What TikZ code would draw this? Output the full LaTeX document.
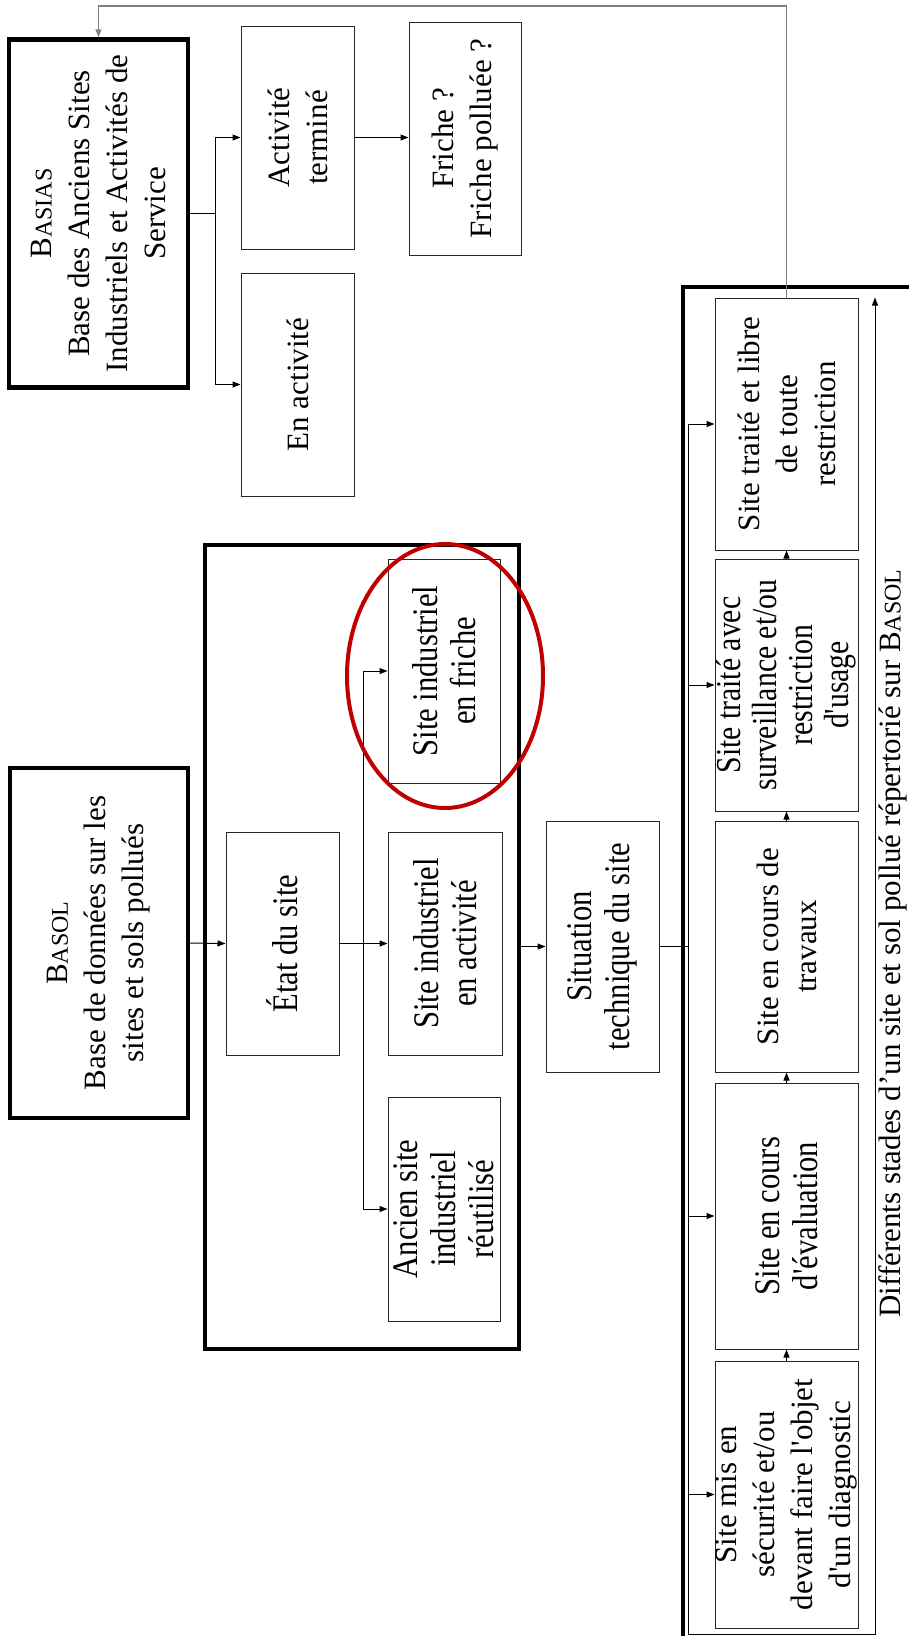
\documentclass[tikz,border=0pt]{standalone}
\usepackage{fontspec}
\newfontfamily\gara{Liberation Serif}[Ligatures=TeXOff]
\newfontfamily\etroit{Liberation Serif}[FakeStretch=0.85,Ligatures=TeXOff]
\newcommand{\fgara}{\gara\fontsize{31}{38}\selectfont}
\newcommand{\fetroit}{\etroit\fontsize{36}{38}\selectfont}
\newcommand{\petitcap}[1]{{\fontsize{24}{38}\selectfont #1}}
\usetikzlibrary{arrows.meta}
\definecolor{rougecercle}{RGB}{192,0,0}

\tikzset{
	boite/.style={draw=black!85, line width=1pt, rotate=90, align=center, inner sep=0pt, font=\fgara},
	etroite/.style={boite, font=\fetroit},
	base/.style={boite, draw=black, line width=4.5pt},
	fleche/.style={-{Triangle[length=8pt,width=6pt]}, line width=1pt},
	retour/.style={fleche, draw=black!50, line width=1.5pt},
	cadre/.style={draw=black, line width=4.5pt}
}

\begin{document}
\begin{tikzpicture}[x=1pt, y=-1pt]
	\useasboundingbox (0,0) rectangle (909,1636);

	% BASIAS
	\node[base, minimum width=348, minimum height=179] (basias) at (98.5,213.5) {B\petitcap{ASIAS}\\Base des Anciens Sites\\Industriels et Activités de\\Service};
	\node[boite, minimum width=223, minimum height=113] (termine) at (297.5,137.5) {Activité\\terminé};
	\node[boite, minimum width=223, minimum height=113] (enact) at (297.5,384.5) {En activité};
	\node[boite, minimum width=233, minimum height=112] (friche) at (465,138.5) {Friche~?\\Friche polluée~?};

	% BASOL
	\node[base, minimum width=350, minimum height=178] (basol) at (99,943) {B\petitcap{ASOL}\\Base de données sur les\\sites et sols pollués};
	\draw[cadre] (205,545) rectangle (519,1349); % cadre etat du site
	\node[etroite, minimum width=223, minimum height=113] (etat) at (282.5,943.5) {État du site};
	\node[etroite, minimum width=224, minimum height=112] (friche2) at (444,671) {Site industriel\\en friche};
	\node[etroite, minimum width=223, minimum height=114] (activ) at (445,943.5) {Site industriel\\en activité};
	\node[etroite, minimum width=224, minimum height=112] (ancien) at (444,1209) {Ancien site\\industriel\\réutilisé};
	\node[etroite, minimum width=251, minimum height=113] (situation) at (602.5,946.5) {Situation\\technique du site};

	% stades sur BASOL
	\draw[cadre] (683,1640) -- (683,287) -- (912,287);
	\node[boite, minimum width=252, minimum height=143] (libre) at (786.5,424) {Site traité et libre\\de toute\\restriction};
	\node[etroite, minimum width=252, minimum height=143, font=\etroit\fontsize{35}{36}\selectfont] (avec) at (786.5,685) {Site traité avec\\surveillance et/ou\\restriction\\d'usage};
	\node[boite, minimum width=251, minimum height=143] (travaux) at (786.5,946.5) {Site en cours de\\travaux};
	\node[etroite, minimum width=266, minimum height=143] (evaluation) at (786.5,1216) {Site en cours\\d'évaluation};
	\node[boite, minimum width=267, minimum height=143] (securite) at (786.5,1494.5) {Site mis en\\sécurité et/ou\\devant faire l'objet\\d'un diagnostic};
	\node[rotate=90, font=\fgara] (legende) at (893,943.5) {Différents stades d’un site et sol pollué répertorié sur B\petitcap{ASOL}};

	\coordinate (b1) at (215,0);
	\coordinate (b2) at (363,0);
	\coordinate (cadreE) at (521,0);
	\coordinate (b3) at (688,0);
	\coordinate (b4) at (875,1634);
	\coordinate (haut) at (0,6);

	% fleches BASIAS
	\draw (basias.south) -- (basias.south -| b1);
	\draw[fleche] (basias.south -| b1) |- (termine.north);
	\draw[fleche] (basias.south -| b1) |- (enact.north);
	\draw[fleche] (termine.south) -- (termine.south -| friche.north);

	% fleches BASOL
	\draw[fleche] (basol.south) -- (etat.north);
	\draw[fleche] (etat.south) -- (activ.north);
	\draw[fleche] (etat.south -| b2) |- (friche2.north);
	\draw[fleche] (etat.south -| b2) |- (ancien.north);
	\draw[fleche] (situation.north -| cadreE) -- (situation.north);
	\draw[line width=1.3pt] (situation.south) -- (situation.south -| b3);

	\draw[fleche] (libre.north -| b3) |- (b4) -- (b4 |- libre.east);
	\foreach \n in {libre,avec,evaluation,securite}
		\draw[fleche] (\n.north -| b3) -- (\n.north);
	\foreach \a/\b in {securite/evaluation,evaluation/travaux,travaux/avec,avec/libre}
		\draw[fleche] (\a.east) -- (\b.west);

	% retour vers BASIAS
	\draw[retour] (libre.east) -- (libre.east |- haut) -| (basias.east);

	\draw[rougecercle, line width=4pt] (445,676) ellipse [x radius=98pt, y radius=132pt];
\end{tikzpicture}
\end{document}
